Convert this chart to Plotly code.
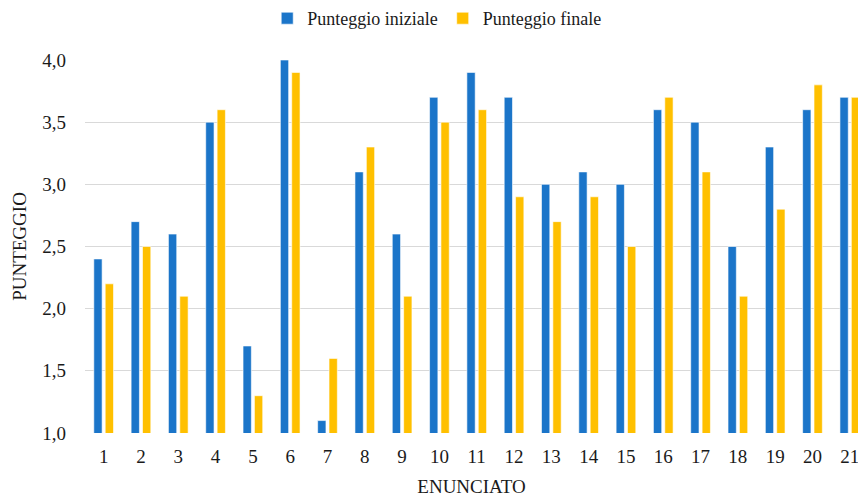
import plotly.graph_objects as go

categories = list(range(1, 22))
iniziale = [2.4, 2.7, 2.6, 3.5, 1.7, 4.0, 1.1, 3.1, 2.6, 3.7, 3.9, 3.7, 3.0, 3.1, 3.0, 3.6, 3.5, 2.5, 3.3, 3.6, 3.7]
finale = [2.2, 2.5, 2.1, 3.6, 1.3, 3.9, 1.6, 3.3, 2.1, 3.5, 3.6, 2.9, 2.7, 2.9, 2.5, 3.7, 3.1, 2.1, 2.8, 3.8, 3.7]
y_ticks = [1.0, 1.5, 2.0, 2.5, 3.0, 3.5, 4.0]

font = "Liberation Serif"

fig = go.Figure()
fig.add_trace(go.Bar(x=categories, y=iniziale, name="Punteggio iniziale",
                     marker=dict(color="#1B75C9", line=dict(color="white", width=0.6))))
fig.add_trace(go.Bar(x=categories, y=finale, name="Punteggio finale",
                     marker=dict(color="#FFC000", line=dict(color="white", width=0.6))))

fig.update_layout(
    width=858, height=497,
    margin=dict(l=85, r=0, t=60, b=64),
    paper_bgcolor="white", plot_bgcolor="white",
    barmode="group", bargap=0.39, bargroupgap=0.27,
    separators=",.",
    font=dict(family=font, size=19, color="#1a1a1a"),
    legend=dict(orientation="h", x=0.455, xanchor="center", y=1.0, yanchor="top",
                yref="container", font=dict(size=18), itemwidth=30,
                traceorder="normal"),
    showlegend=True,
)
fig.update_xaxes(
    range=[0.5, 21.22], tickmode="array", tickvals=categories,
    ticktext=[str(c) for c in categories],
    showgrid=False, showline=False, zeroline=False,
    ticklabelstandoff=10, ticklabeloverflow="allow",
    title=dict(text="ENUNCIATO", font=dict(size=19), standoff=16),
)
fig.update_yaxes(
    range=[1.0, 4.0], tickmode="array", tickvals=y_ticks,
    tickformat=".1f",
    showgrid=True, gridcolor="#D9D9D9", gridwidth=1,
    showline=False, zeroline=False,
    ticklabelstandoff=18,
    title=dict(text="PUNTEGGIO", font=dict(size=19), standoff=10),
)

fig.write_html("out.html")
